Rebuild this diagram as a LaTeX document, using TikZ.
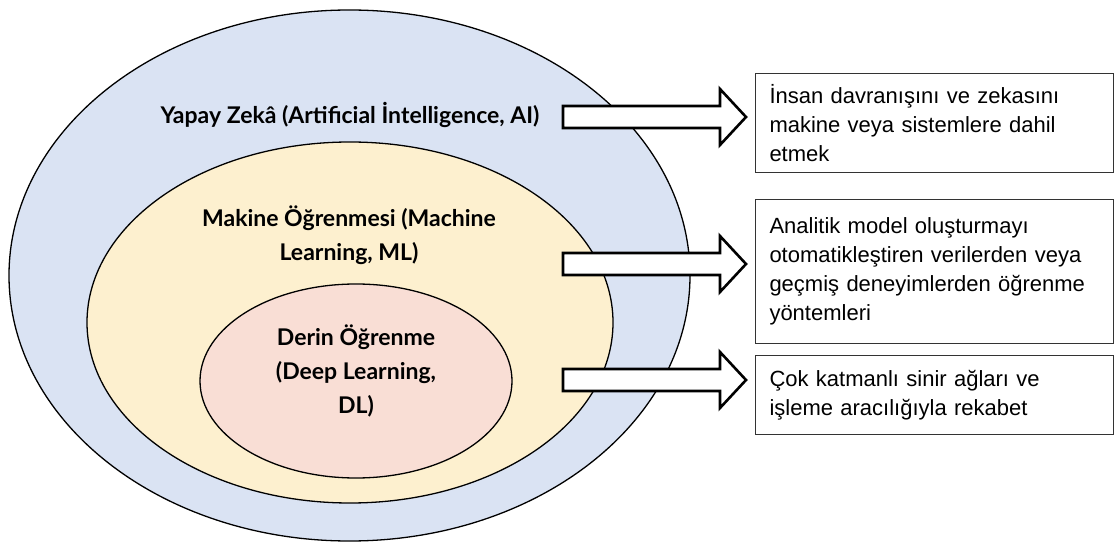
\documentclass[tikz,border=0pt]{standalone}
\usepackage{fontspec}
\setmainfont{Liberation Sans}
\newfontfamily\labelfont{Lato}
\usetikzlibrary{shapes.geometric}

\definecolor{aiblue}{HTML}{DAE3F3}
\definecolor{mlyellow}{HTML}{FDF0CF}
\definecolor{dlpink}{HTML}{F9DED5}

\tikzset{
  layer/.style={draw=black, line width=1.3pt, ellipse, inner sep=0pt},
  mainlabel/.style={font=\labelfont\bfseries\fontsize{23}{34}\selectfont, align=center, inner sep=0pt},
  infobox/.style={draw=black!80, line width=1pt, anchor=north west, minimum width=358pt,
    text width=330pt, inner xsep=14pt, align=left,
    font=\fontsize{22}{29}\selectfont},
  arrowline/.style={draw=black, line width=2.6pt, fill=white, line join=miter},
  blockarr/.pic={
    \draw[arrowline] (0,-11) -- (157,-11) -- (157,-28) -- (183,0) -- (157,28)
      -- (157,11) -- (0,11) -- cycle;
  }
}

\begin{document}
\begin{tikzpicture}[x=1pt,y=-1pt]
\useasboundingbox (0,0) rectangle (1114,545);

% nested fields
\node[layer, fill=aiblue, minimum width=681pt, minimum height=531pt] (ai) at (349.5,275.5) {};
\node[layer, fill=mlyellow, minimum width=526pt, minimum height=361pt] (ml) at (350,322.5) {};
\node[layer, fill=dlpink, minimum width=312pt, minimum height=194pt] (dl) at (356,381) {};

% field names
\node[mainlabel] (ailabel) at (350,115) {Yapay Zekâ (Artificial İntelligence, AI)};
\node[mainlabel] (mllabel) at (349,235) {Makine Öğrenmesi (Machine\\Learning, ML)};
\node[mainlabel] (dllabel) at (356,371) {Derin Öğrenme\\(Deep Learning,\\DL)};

% descriptions
\node[infobox, minimum height=99pt] (b1) at (755,73)
  {İnsan davranışını ve zekasını\\makine veya sistemlere dahil\\etmek};
\node[infobox, minimum height=144pt] (b2) at (755,199)
  {Analitik model oluşturmayı\\otomatikleştiren verilerden veya\\geçmiş deneyimlerden öğrenme\\yöntemleri};
\node[infobox, minimum height=79pt] (b3) at (755,355)
  {Çok katmanlı sinir ağları ve\\işleme aracılığıyla rekabet};

% block arrows
\pic at (563,117) {blockarr};
\pic at (563,264) {blockarr};
\pic at (563,380) {blockarr};
\end{tikzpicture}
\end{document}
